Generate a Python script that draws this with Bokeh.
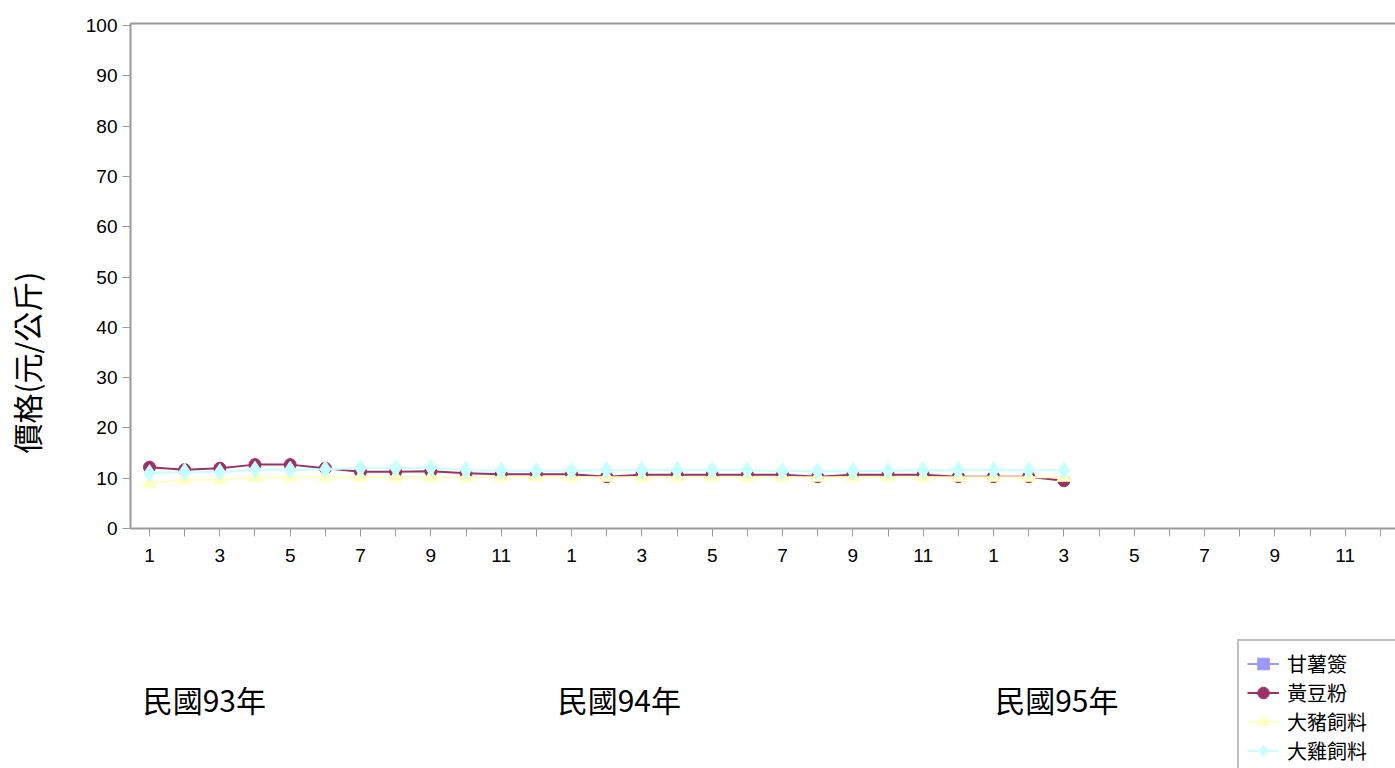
from bokeh.plotting import figure
from bokeh.layouts import column
from bokeh.models import (ColumnDataSource, FixedTicker, LinearAxis,
                          Legend, LegendItem, Range1d)
from bokeh.core.properties import value
from bokeh.embed import file_html
from bokeh.resources import INLINE

nan = float("nan")

# ---------------- data ----------------
years = ["民國93年", "民國94年", "民國95年"]
month_labels = [str(m) for m in range(1, 13)] * 3          # 36 monthly ticks
n_months = len(month_labels)

sweet_potato = [nan] * 27   # 甘薯簽: no values reported
soybean = [12.2, 11.7, 12.0, 12.7, 12.7, 12.0, 11.3, 11.3, 11.4, 11.0, 10.8, 10.8,
           10.8, 10.3, 10.7, 10.7, 10.7, 10.7, 10.7, 10.3, 10.7, 10.7, 10.7, 10.3,
           10.3, 10.3, 9.5]
hog_feed = [9.0, 9.7, 9.7, 10.2, 10.2, 10.2, 10.2, 10.2, 10.2, 10.2, 10.2, 10.2,
            10.2, 10.2, 10.2, 10.2, 10.2, 10.2, 10.2, 10.2, 10.2, 10.2, 10.2, 10.2,
            10.2, 10.2, 10.2]
chicken_feed = [11.0, 11.3, 11.2, 11.7, 11.7, 11.8, 12.0, 12.0, 12.1, 11.6, 11.5, 11.5,
                11.5, 11.6, 11.6, 11.6, 11.6, 11.6, 11.4, 11.4, 11.4, 11.5, 11.6, 11.6,
                11.6, 11.6, 11.6]
series_names = ["甘薯簽", "黃豆粉", "大豬飼料", "大雞飼料"]
y_ticks = list(range(0, 101, 10))
y_title = "價格(元/公斤)"

# ---------------- styles / layout ----------------
CJK = "Noto Sans CJK TC"
NUM = "Liberation Sans"
AX = "#9a9a9a"
colors = ["#9999FF", "#993366", "#FFFFC0", "#C8FFFF"]
markers = ["square", "circle", "triangle", "diamond"]
marker_sizes = [11, 12, 14, 17]
year_x = [1.56, 13.36, 25.8]        # centres of the year captions (month index)
title_y = 33.0                      # vertical centre of the y title (value units)

xr = Range1d(-0.54, 35.43)

p = figure(width=1395, height=580, output_backend="svg", toolbar_location=None,
           x_range=xr, y_range=Range1d(0, 100.4),
           min_border_left=130, min_border_right=0, min_border_top=23,
           min_border_bottom=52, x_axis_type=None, y_axis_type=None)
p.outline_line_color = None
p.xgrid.visible = False
p.ygrid.visible = False

# x axis (months)
xax = LinearAxis(ticker=FixedTicker(ticks=list(range(0, n_months, 2)),
                                    minor_ticks=list(range(1, n_months, 2))))
xax.major_label_overrides = {i: month_labels[i] for i in range(0, n_months, 2)}
xax.axis_line_color = AX
xax.axis_line_width = 2
xax.major_tick_line_color = AX
xax.minor_tick_line_color = AX
xax.major_tick_out = 8
xax.major_tick_in = 0
xax.minor_tick_out = 8
xax.minor_tick_in = 0
xax.major_label_text_font = NUM
xax.major_label_text_font_size = "19px"
xax.major_label_text_color = "black"
xax.major_label_standoff = 12
p.add_layout(xax, "below")

# y axis
yax = LinearAxis(ticker=FixedTicker(ticks=y_ticks, minor_ticks=[]))
yax.axis_line_color = AX
yax.axis_line_width = 2
yax.major_tick_line_color = AX
yax.major_tick_out = 8
yax.major_tick_in = 0
yax.major_label_text_font = NUM
yax.major_label_text_font_size = "19px"
yax.major_label_text_color = "black"
yax.major_label_standoff = 5
p.add_layout(yax, "left")

# y title drawn as a tick-less outer axis so it can sit off-centre
tax = LinearAxis(ticker=FixedTicker(ticks=[title_y], minor_ticks=[]))
tax.major_label_overrides = {title_y: y_title}
tax.major_label_orientation = "vertical"
tax.axis_line_color = None
tax.major_tick_line_color = None
tax.major_tick_out = 0
tax.major_tick_in = 0
tax.major_label_text_font = CJK
tax.major_label_text_font_size = "30px"
tax.major_label_text_color = "black"
tax.major_label_standoff = 34
p.add_layout(tax, "left")

# top border line
top = LinearAxis(ticker=FixedTicker(ticks=[], minor_ticks=[]))
top.axis_line_color = AX
top.axis_line_width = 2
top.major_tick_out = 0
top.major_tick_in = 0
top.major_label_text_font_size = "0px"
top.major_label_standoff = 0
p.add_layout(top, "above")

# ---------------- series ----------------
sources = []
for vals, c, mk, ms in zip([sweet_potato, soybean, hog_feed, chicken_feed],
                           colors, markers, marker_sizes):
    s = ColumnDataSource(dict(x=list(range(len(vals))), y=vals))
    sources.append(s)
    p.line("x", "y", source=s, line_color=c, line_width=2)
    p.scatter("x", "y", source=s, marker=mk, size=ms, fill_color=c, line_color=c)

# ---------------- lower strip: year captions + legend ----------------
p2 = figure(width=1395, height=188, output_backend="svg", toolbar_location=None,
            x_range=xr, y_range=Range1d(0, 188),
            min_border_left=130, min_border_right=0, min_border_top=0,
            min_border_bottom=0, x_axis_type=None, y_axis_type=None)
p2.outline_line_color = None
p2.xgrid.visible = False
p2.ygrid.visible = False
# the series are bound to a range far above their values, so in this strip only
# their legend swatches appear
p2.extra_y_ranges = {"off": Range1d(1000, 1001)}

ysrc = ColumnDataSource(dict(x=year_x, y=[70] * len(years), t=years))
p2.text("x", "y", text="t", source=ysrc, text_font=value(CJK),
        text_font_size="30px", text_align="center", text_baseline="middle",
        text_color="black")

items = []
for name, s, c, mk in zip(series_names, sources, colors, markers):
    lr = p2.line("x", "y", source=s, line_color=c, line_width=2, y_range_name="off")
    mr = p2.scatter("x", "y", source=s, marker=mk, fill_color=c, line_color=c,
                    y_range_name="off")
    items.append(LegendItem(label=name, renderers=[lr, mr], index=0))

legend = Legend(items=items, location=(1107, -7), orientation="vertical",
                label_text_font=CJK, label_text_font_size="20px",
                label_text_color="black",
                label_height=29, label_width=100, glyph_height=29, glyph_width=32,
                label_standoff=8, spacing=0, padding=8, margin=0,
                border_line_color="#808080", border_line_width=2,
                background_fill_color="white", background_fill_alpha=1.0)
p2.add_layout(legend, "center")

layout = column(p, p2, spacing=0)
open("out.html", "w").write(file_html(layout, INLINE))
